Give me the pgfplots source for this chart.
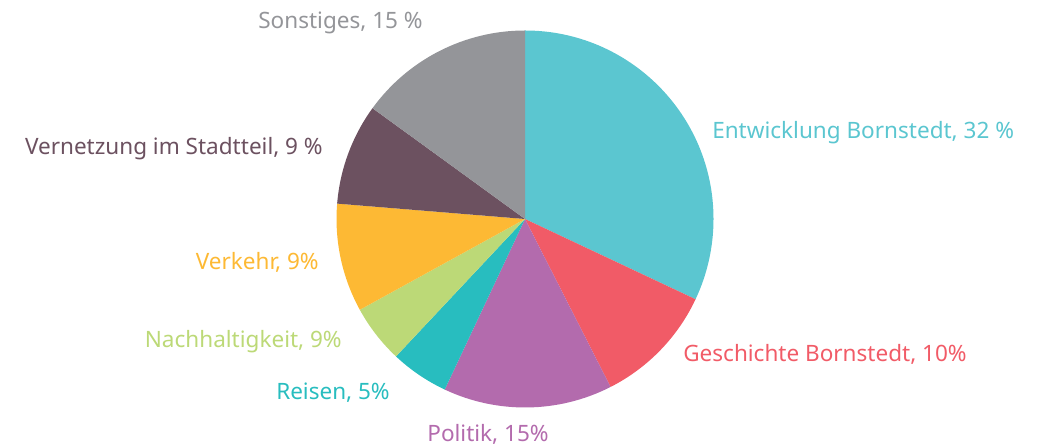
\documentclass[border=0pt]{standalone}
\usepackage{pgfplots}
\usepackage{pgfplotstable}
\pgfplotsset{compat=1.18}
\usepackage{fontspec}
\setmainfont{Noto Sans}
\definecolor{c1}{HTML}{5BC6D0}
\definecolor{c2}{HTML}{F15B67}
\definecolor{c3}{HTML}{B36BAD}
\definecolor{c4}{HTML}{28BDBF}
\definecolor{c5}{HTML}{BCD977}
\definecolor{c6}{HTML}{FDB934}
\definecolor{c7}{HTML}{6C5160}
\definecolor{c8}{HTML}{949599}
\pgfplotstableread{
value col
32   c1
10.5 c2
14.5 c3
5    c4
5    c5
9.3  c6
8.7  c7
15   c8
}\piedata
\tikzset{lab/.style={font=\fontsize{16.9pt}{20pt}\selectfont, inner sep=0pt}}
\begin{document}
\begin{tikzpicture}
\useasboundingbox (0,0) rectangle (786pt,336pt);
\begin{axis}[hide axis, scale only axis, width=786pt, height=336pt,
  xmin=0, xmax=1048, ymin=0, ymax=448, clip=false]
\def\cum{0}
\pgfplotsforeachungrouped \i in {0,...,7}{%
  \pgfplotstablegetelem{\i}{value}\of\piedata \let\val\pgfplotsretval
  \pgfplotstablegetelem{\i}{col}\of\piedata \let\colname\pgfplotsretval
  \pgfmathsetmacro\sa{90-3.6*\cum}%
  \pgfmathsetmacro\ea{90-3.6*(\cum+\val)}%
  \pgfmathsetmacro\sx{525+188.5*cos(\sa)}%
  \pgfmathsetmacro\sy{229+188.5*sin(\sa)}%
  \edef\temp{\noexpand\fill[\colname] (axis cs:525,229) -- (axis cs:\sx,\sy) arc[start angle=\sa, end angle=\ea, radius=141.375pt] -- cycle;}%
  \temp
  \pgfmathsetmacro\cum{\cum+\val}%
}
\node[lab, anchor=base west, text=c1] at (axis cs:712,309.7) {Entwicklung Bornstedt, 32 \%};
\node[lab, anchor=base west, text=c2] at (axis cs:683,86.3) {Geschichte Bornstedt, 10\%};
\node[lab, anchor=base, text=c3] at (axis cs:488,6.3) {Politik, 15\%};
\node[lab, anchor=base east, text=c4] at (axis cs:390,48) {Reisen, 5\%};
\node[lab, anchor=base east, text=c5] at (axis cs:342,100) {Nachhaltigkeit, 9\%};
\node[lab, anchor=base east, text=c6] at (axis cs:319,178) {Verkehr, 9\%};
\node[lab, anchor=base east, text=c7] at (axis cs:323,293) {Vernetzung im Stadtteil, 9 \%};
\node[lab, anchor=base, text=c8] at (axis cs:340.5,419) {Sonstiges, 15 \%};
\end{axis}
\end{tikzpicture}
\end{document}
